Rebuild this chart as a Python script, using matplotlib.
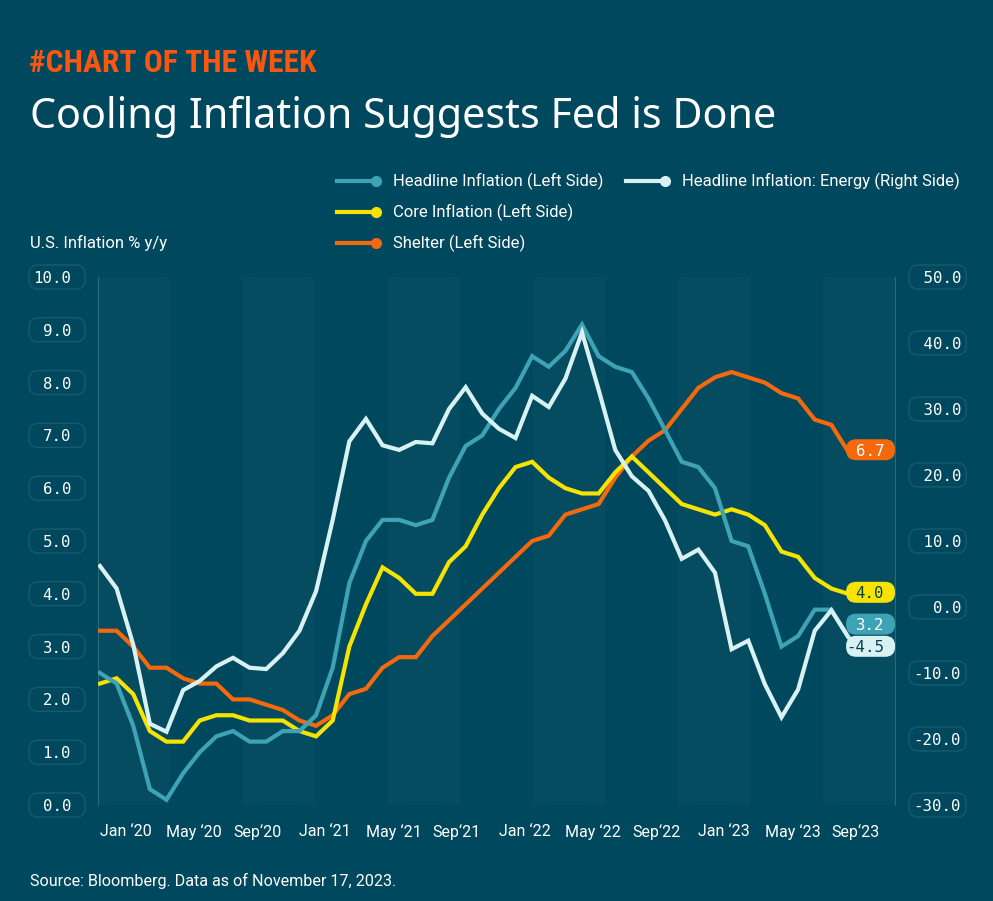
import numpy as np
import matplotlib
matplotlib.use("Agg")
import matplotlib.pyplot as plt
from matplotlib.patches import Rectangle, BoxStyle
from matplotlib.lines import Line2D

# ─── data: U.S. CPI y/y %, monthly Jan 2020 - Oct 2023 ─────────────────────

headline = [2.5, 2.3, 1.5, 0.3, 0.1, 0.6, 1.0, 1.3, 1.4, 1.2, 1.2, 1.4,
            1.4, 1.7, 2.6, 4.2, 5.0, 5.4, 5.4, 5.3, 5.4, 6.2, 6.8, 7.0,
            7.5, 7.9, 8.5, 8.3, 8.6, 9.1, 8.5, 8.3, 8.2, 7.7, 7.1, 6.5,
            6.4, 6.0, 5.0, 4.9, 4.0, 3.0, 3.2, 3.7, 3.7, 3.2]
core = [2.3, 2.4, 2.1, 1.4, 1.2, 1.2, 1.6, 1.7, 1.7, 1.6, 1.6, 1.6,
        1.4, 1.3, 1.6, 3.0, 3.8, 4.5, 4.3, 4.0, 4.0, 4.6, 4.9, 5.5,
        6.0, 6.4, 6.5, 6.2, 6.0, 5.9, 5.9, 6.3, 6.6, 6.3, 6.0, 5.7,
        5.6, 5.5, 5.6, 5.5, 5.3, 4.8, 4.7, 4.3, 4.1, 4.0]
shelter = [3.3, 3.3, 3.0, 2.6, 2.6, 2.4, 2.3, 2.3, 2.0, 2.0, 1.9, 1.8,
           1.6, 1.5, 1.7, 2.1, 2.2, 2.6, 2.8, 2.8, 3.2, 3.5, 3.8, 4.1,
           4.4, 4.7, 5.0, 5.1, 5.5, 5.6, 5.7, 6.2, 6.6, 6.9, 7.1, 7.5,
           7.9, 8.1, 8.2, 8.1, 8.0, 7.8, 7.7, 7.3, 7.2, 6.7]
energy = [6.2, 2.8, -5.7, -17.7, -18.9, -12.6, -11.2, -9.0, -7.7, -9.2, -9.4, -7.0,
          -3.6, 2.4, 13.2, 25.1, 28.5, 24.5, 23.8, 25.0, 24.8, 30.0, 33.3, 29.3,
          27.0, 25.6, 32.0, 30.3, 34.6, 41.6, 32.9, 23.8, 19.8, 17.6, 13.1, 7.3,
          8.7, 5.2, -6.4, -5.1, -11.7, -16.7, -12.5, -3.6, -0.5, -4.5]

x_labels = ["Jan \u201820", "May \u201820", "Sep\u201820", "Jan \u201821", "May \u201821", "Sep\u201821",
            "Jan \u201822", "May \u201822", "Sep\u201822", "Jan \u201823", "May \u201823", "Sep\u201823"]
left_ticks = [0, 1, 2, 3, 4, 5, 6, 7, 8, 9, 10]
right_ticks = [-30, -20, -10, 0, 10, 20, 30, 40, 50]

# ─── colours ───────────────────────────────────────────────────────────────

BG = "#00485d"
BAND = "#064c60"
EDGE = "#175b6e"
SPINE = "#2c6a7b"
TEAL = "#3fa3b6"
ICE = "#d8f2f4"
YELLOW = "#f6e400"
ORANGE = "#f4690c"
TITLE_ORANGE = "#fa560f"
DARK = "#0b3f50"

W, H = 993, 901
MONO = "DejaVu Sans Mono"
SANS = "Roboto"
FS = 11.3
M = FS * 100 / 72          # font size in px (mutation scale of text boxes)


def pill(width, right, height, radius):
    """Fixed size rounded box, anchored on the right edge of the text (px)."""
    rounder = BoxStyle.Round(pad=0, rounding_size=radius / M)

    def style(x0, y0, w, h, m):
        x1 = x0 + w + right
        yc = y0 + h / 2 + 1.5
        return rounder(x1 - width, yc - height / 2, width, height, m)
    return style


fig = plt.figure(figsize=(W / 100, H / 100), dpi=100)
fig.patch.set_facecolor(BG)

ax = fig.add_axes([98 / W, (H - 805) / H, 797 / W, 528 / H])
ax.set_facecolor(BG)
ax2 = ax.twinx()

x = np.arange(len(headline))
ax.set_xlim(-0.12, 47.83)
ax.set_ylim(0, 10)
ax2.set_ylim(-30, 50)

# alternating background bands
for i in range(0, 11, 2):
    ax.add_patch(Rectangle((i / 11, 0), 1 / 11, 1, transform=ax.transAxes,
                           color=BAND, lw=0, zorder=0))

ax.plot(x, shelter, color=ORANGE, lw=3, zorder=3, solid_joinstyle="miter")
ax.plot(x, core, color=YELLOW, lw=3, zorder=4, solid_joinstyle="miter")
ax.plot(x, headline, color=TEAL, lw=3, zorder=5, solid_joinstyle="miter")
ax2.plot(x, energy, color=ICE, lw=3, zorder=3, solid_joinstyle="miter")

# spines
for a in (ax, ax2):
    for s in ("top", "bottom"):
        a.spines[s].set_visible(False)
ax.spines["right"].set_visible(False)
ax2.spines["left"].set_visible(False)
ax.spines["left"].set_color(SPINE)
ax2.spines["right"].set_color(SPINE)

# x ticks, left aligned on the month
ax.set_xticks(x[::4])
ax.set_xticklabels(x_labels, fontfamily=SANS, fontsize=11.5, color="white", ha="left")
ax.tick_params(axis="x", length=0, pad=14)

# y ticks in rounded boxes
ax.set_yticks(left_ticks)
ax.set_yticklabels([f"{v:.1f}" for v in left_ticks], fontfamily=MONO, fontsize=FS, color="white")
ax.tick_params(axis="y", length=0, pad=19.4)
for lbl in ax.get_yticklabels():
    lbl.set_bbox(dict(boxstyle=pill(56, 14, 24, 9), fc=BG, ec=EDGE, lw=1))

ax2.set_yticks(right_ticks)
ax2.set_yticklabels([f"{v:5.1f}" for v in right_ticks], fontfamily=MONO, fontsize=FS, color="white")
ax2.tick_params(axis="y", length=0, pad=13.4)
for lbl in ax2.get_yticklabels():
    lbl.set_bbox(dict(boxstyle=pill(57, 5, 24, 9), fc=BG, ec=EDGE, lw=1))

# end-of-line value tags
tags = [(ax, shelter, ORANGE, "white", 0),
        (ax, core, YELLOW, DARK, 0),
        (ax, headline, TEAL, "white", 7.5),
        (ax2, energy, ICE, DARK, -8)]
for a, series, fc, tc, dy in tags:
    a.annotate(f"{series[-1]:.1f}", xy=(x[-1], series[-1]), xytext=(26, dy),
               textcoords="offset points", ha="right", va="center",
               fontfamily=MONO, fontsize=FS, color=tc, zorder=10,
               bbox=dict(boxstyle=pill(49, 11, 21, 10), fc=fc, ec="none"))

# ─── header, legend, footer ────────────────────────────────────────────────

def fx(px):
    return px / W


def fy(px):
    return (H - px) / H


fig.text(fx(29), fy(72), "#CHART OF THE WEEK", color=TITLE_ORANGE, fontsize=22.8,
         fontweight="bold", fontfamily=["Liberation Sans Narrow", "Roboto Condensed", SANS],
         va="baseline")
fig.text(fx(30), fy(128), "Cooling Inflation Suggests Fed is Done", color="white",
         fontsize=29.7, fontfamily="Noto Sans", va="baseline")

legend = [("Headline Inflation (Left Side)", TEAL, 337, 181),
          ("Headline Inflation: Energy (Right Side)", ICE, 626, 181),
          ("Core Inflation (Left Side)", YELLOW, 337, 212),
          ("Shelter (Left Side)", ORANGE, 337, 243)]
for label, color, lx, ly in legend:
    fig.add_artist(Line2D([fx(lx), fx(lx + 39)], [fy(ly), fy(ly)], color=color, lw=3,
                          transform=fig.transFigure))
    fig.add_artist(Line2D([fx(lx + 39)], [fy(ly)], color=color, marker="o", markersize=7,
                          transform=fig.transFigure))
    fig.text(fx(lx + 56), fy(ly), label, color="white", fontsize=12,
             fontfamily=SANS, va="center")

fig.text(fx(30), fy(243), "U.S. Inflation % y/y", color="white", fontsize=12,
         fontfamily=SANS, va="center")
fig.text(fx(30), fy(881), "Source: Bloomberg. Data as of November 17, 2023.", color="white",
         fontsize=11.6, fontfamily=SANS, va="center")

fig.savefig("out.png", dpi=100, facecolor=BG)
